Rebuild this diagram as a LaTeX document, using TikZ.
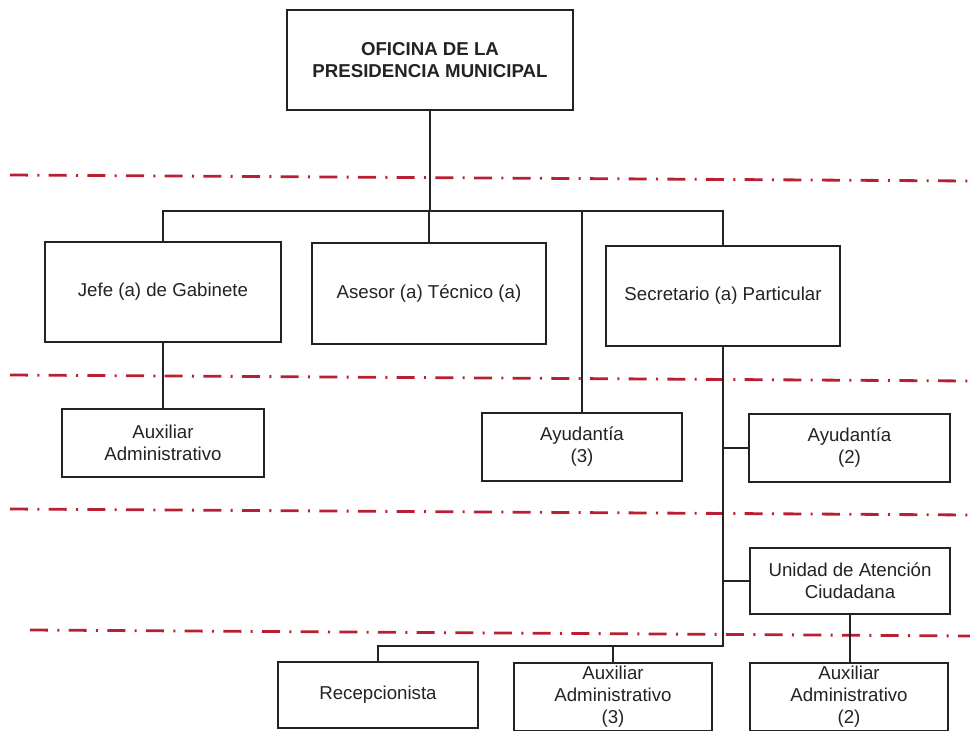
\documentclass[tikz,border=0pt]{standalone}
\usepackage{fontspec}
\setmainfont{Liberation Sans}
\definecolor{inkgray}{RGB}{35,35,35}
\definecolor{levelred}{RGB}{185,30,50}
\tikzset{
  unitbox/.style={draw=inkgray, line width=1.3pt, fill=white, inner sep=0pt, outer sep=0pt,
    align=center, text=inkgray, font=\fontsize{14}{16.5}\selectfont},
  headbox/.style={unitbox, font=\bfseries\fontsize{14}{17}\selectfont},
  link/.style={draw=inkgray, line width=1.3pt},
  levelline/.style={draw=levelred, line width=2.1pt,
    dash pattern=on 13.5pt off 7pt on 1.5pt off 7pt}
}
% box from its pixel corners: name, x1, y1, x2, y2, style, text
\newcommand\orgbox[7]{%
  \node[#6, minimum width={(#4-#2)*0.75pt}, minimum height={(#5-#3)*0.75pt}]
    (#1) at ({(#2+#4)/2},{(#3+#5)/2}) {#7};}
\begin{document}
\begin{tikzpicture}[x=0.75pt, y=-0.75pt]
\useasboundingbox (0,0) rectangle (970,731);

% hierarchy level separators
\draw[levelline] (10,175) -- (970,181);
\draw[levelline] (10,375) -- (970,381);
\draw[levelline] (10,509) -- (970,515);
\draw[levelline] (30,630) -- (970,636);

% units
\orgbox{top}{287}{10}{573}{110}{headbox}{OFICINA DE LA\\PRESIDENCIA MUNICIPAL}
\orgbox{jefe}{45}{242}{281}{342}{unitbox}{Jefe (a) de Gabinete}
\orgbox{asesor}{312}{243}{546}{344}{unitbox}{Asesor (a) Técnico (a)}
\orgbox{secre}{606}{246}{840}{346}{unitbox}{Secretario (a) Particular}
\orgbox{auxL}{62}{409}{264}{477}{unitbox}{Auxiliar\\Administrativo}
\orgbox{ayu3}{482}{413}{682}{481}{unitbox}{Ayudantía\\(3)}
\orgbox{ayu2}{749}{414}{950}{482}{unitbox}{Ayudantía\\(2)}
\orgbox{unidad}{750}{548}{950}{614}{unitbox}{Unidad de Atención\\Ciudadana}
\orgbox{recep}{278}{662}{478}{728}{unitbox}{Recepcionista}
\orgbox{aux3}{514}{663}{712}{731}{unitbox}{Auxiliar\\Administrativo\\(3)}
\orgbox{aux2}{750}{663}{948}{731}{unitbox}{Auxiliar\\Administrativo\\(2)}

% bus and trunk junctions
\coordinate (busR) at (723,211);
\coordinate (trunk) at (723,646);

% connectors
\draw[link] (top.south) -- (top.south |- busR);
\draw[link] (jefe.north) |- (busR) -- (secre.north);
\draw[link] (asesor.north) -- (asesor.north |- busR);
\draw[link] (ayu3.north) -- (ayu3.north |- busR);
\draw[link] (jefe.south) -- (auxL.north);
\draw[link] (secre.south) -- (trunk) -| (recep.north);
\draw[link] (aux3.north) -- (aux3.north |- trunk);
\draw[link] (ayu2.west) -- (ayu2.west -| trunk);
\draw[link] (unidad.west) -- (unidad.west -| trunk);
\draw[link] (unidad.south) -- (unidad.south |- aux2.north);
\end{tikzpicture}
\end{document}
